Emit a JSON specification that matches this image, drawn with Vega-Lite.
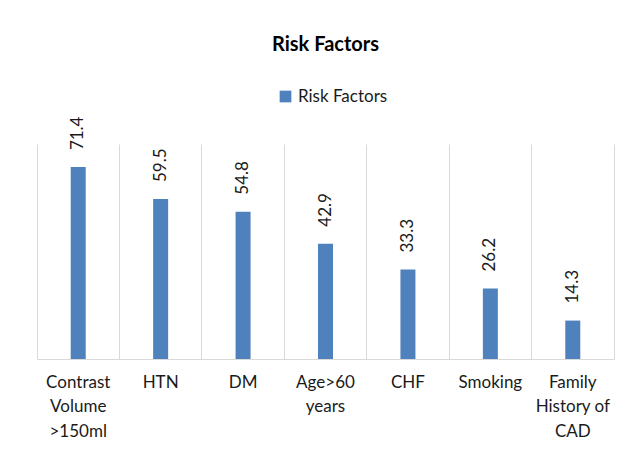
{
  "$schema": "https://vega.github.io/schema/vega-lite/v6.json",
  "width": 577,
  "height": 215,
  "autosize": "none",
  "padding": {"left": 37, "top": 144, "right": 22, "bottom": 94},
  "background": "white",
  "title": {
    "text": "Risk Factors",
    "font": "Lato",
    "fontSize": 20,
    "fontWeight": "bold",
    "color": "#000000",
    "anchor": "middle",
    "frame": "group",
    "offset": 33
  },
  "data": {
    "values": [
      {"factor": "Contrast\nVolume\n>150ml", "value": 71.4, "series": "Risk Factors"},
      {"factor": "HTN", "value": 59.5, "series": "Risk Factors"},
      {"factor": "DM", "value": 54.8, "series": "Risk Factors"},
      {"factor": "Age>60\nyears", "value": 42.9, "series": "Risk Factors"},
      {"factor": "CHF", "value": 33.3, "series": "Risk Factors"},
      {"factor": "Smoking", "value": 26.2, "series": "Risk Factors"},
      {"factor": "Family\nHistory of\nCAD", "value": 14.3, "series": "Risk Factors"}
    ]
  },
  "encoding": {
    "x": {
      "field": "factor",
      "type": "nominal",
      "sort": null,
      "scale": {"paddingInner": 0, "paddingOuter": 0},
      "axis": {
        "title": null,
        "labelAngle": 0,
        "labelExpr": "split(datum.label, '\\n')",
        "labelFont": "Lato",
        "labelFontSize": 17,
        "labelColor": "#1a1a1a",
        "labelLineHeight": 24.5,
        "labelPadding": 15,
        "labelBaseline": "top",
        "ticks": false,
        "domainColor": "#d9d9d9",
        "grid": true,
        "gridColor": "#d9d9d9",
        "bandPosition": 0
      }
    },
    "y": {
      "field": "value",
      "type": "quantitative",
      "scale": {"domain": [0, 80], "nice": false},
      "axis": {
        "orient": "right",
        "title": null,
        "labels": false,
        "ticks": false,
        "grid": false,
        "domainColor": "#d9d9d9"
      }
    }
  },
  "layer": [
    {
      "mark": {"type": "bar", "size": 15},
      "encoding": {
        "color": {
          "field": "series",
          "type": "nominal",
          "scale": {"range": ["#4f81bd"]},
          "legend": {
            "title": null,
            "orient": "none",
            "legendX": 240,
            "legendY": -56,
            "padding": 0,
            "symbolType": "square",
            "symbolSize": 137,
            "symbolStrokeWidth": 0,
            "labelFont": "Lato",
            "labelFontSize": 17,
            "labelColor": "#1a1a1a",
            "labelOffset": 4
          }
        }
      }
    },
    {
      "mark": {
        "type": "text",
        "angle": 270,
        "align": "left",
        "baseline": "middle",
        "dx": 17,
        "font": "Lato",
        "fontSize": 17,
        "color": "#1a1a1a"
      },
      "encoding": {
        "text": {"field": "value", "type": "quantitative", "format": ".1f"}
      }
    }
  ],
  "config": {"view": {"stroke": null}}
}
